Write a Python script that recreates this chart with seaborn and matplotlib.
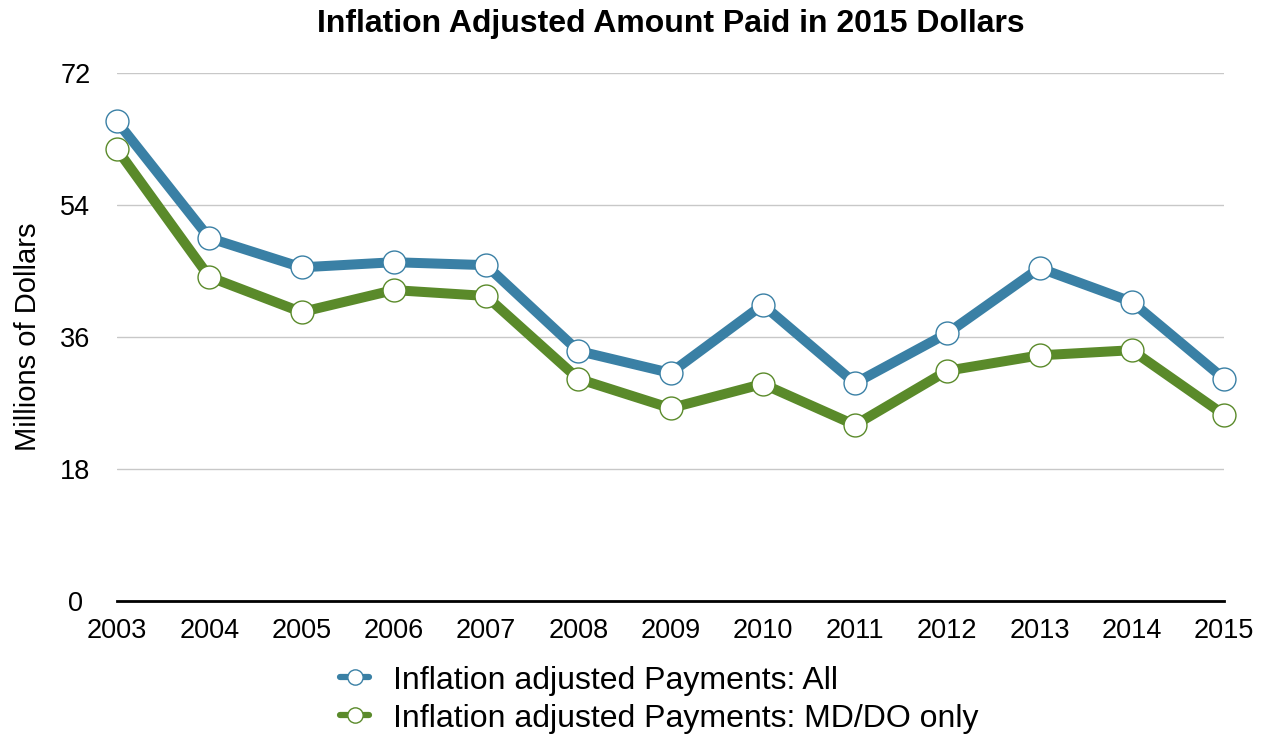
import matplotlib
matplotlib.use("Agg")
import matplotlib.pyplot as plt
import seaborn as sns
import pandas as pd

years = [2003, 2004, 2005, 2006, 2007, 2008, 2009, 2010, 2011, 2012, 2013, 2014, 2015]
all_payments = [65.4, 49.5, 45.5, 46.2, 45.8, 34.1, 31.1, 40.4, 29.7, 36.5, 45.4, 40.8, 30.3]
mddo_payments = [61.6, 44.2, 39.4, 42.4, 41.6, 30.3, 26.3, 29.6, 24.0, 31.4, 33.5, 34.2, 25.4]
series_names = ["Inflation adjusted Payments: All", "Inflation adjusted Payments: MD/DO only"]
y_ticks = [0, 18, 36, 54, 72]

sns.set_theme(style="white")
plt.rcParams['font.family'] = ['Liberation Sans', 'DejaVu Sans']
plt.rcParams['text.color'] = 'black'
plt.rcParams['axes.labelcolor'] = 'black'
plt.rcParams['xtick.color'] = 'black'
plt.rcParams['ytick.color'] = 'black'

fig = plt.figure(figsize=(12.65, 7.36), dpi=100)
ax = fig.add_axes([0.0925, 0.1834, 0.8751, 0.7174])

colors = ["#3a80a5", "#5a8a2a"]
for vals, name, c in zip([all_payments, mddo_payments], series_names, colors):
    df = pd.DataFrame({"year": years, "value": vals})
    sns.lineplot(data=df, x="year", y="value", ax=ax, color=c, linewidth=7.2,
                 marker="o", markersize=16.5, markerfacecolor="white",
                 markeredgecolor=c, markeredgewidth=1.0, label=name, clip_on=False,
                 zorder=3)

ax.set_xlim(2003, 2015)
ax.set_ylim(0, 72)
ax.set_xticks(years)
ax.set_xticklabels([str(y) for y in years], fontsize=19.5)
ax.set_yticks(y_ticks)
ax.set_yticklabels([str(t) for t in y_ticks], fontsize=19.5)
ax.tick_params(axis='both', length=0)
ax.tick_params(axis='x', pad=12)
ax.tick_params(axis='y', pad=30)
for t in ax.get_yticklabels():
    t.set_horizontalalignment('center')
ax.yaxis.grid(True, color="#c8c8c8", linewidth=1.0)
ax.xaxis.grid(False)
for s in ["top", "right", "left"]:
    ax.spines[s].set_visible(False)
ax.spines["bottom"].set_color("black")
ax.spines["bottom"].set_linewidth(2)
ax.spines["bottom"].set_zorder(2)

ax.set_xlabel("")
ax.set_ylabel("Millions of Dollars", fontsize=21)
ax.yaxis.set_label_coords(-0.068, 0.5)
fig.suptitle("Inflation Adjusted Amount Paid in 2015 Dollars", fontsize=23,
             fontweight="bold", x=0.53, y=0.988)

leg = ax.legend(loc="upper center", bbox_to_anchor=(0.49, -0.08), frameon=False,
                fontsize=23, handlelength=0.9, handletextpad=0.75, labelspacing=0.25,
                borderaxespad=0.3)
for h in leg.legend_handles:
    h.set_markersize(11)
    h.set_linewidth(4.5)

fig.savefig("out.png", dpi=100)
